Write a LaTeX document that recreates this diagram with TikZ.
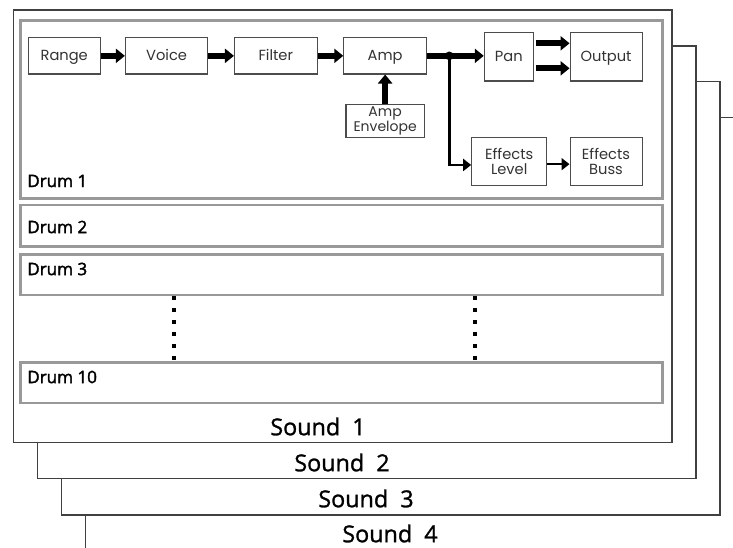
\documentclass[tikz,border=0pt]{standalone}
\usepackage{fontspec}
\usepackage{tikz}
\usetikzlibrary{arrows.meta}
\usetikzlibrary{positioning}
\newfontfamily\blockfont{Poppins}
\newfontfamily\drumfont[FakeBold=2]{Open Sans}
\newfontfamily\soundfont[FakeBold=1.2]{Open Sans}
\tikzset{block/.style = {draw = black!70, line width = 0.8pt, fill = white, inner sep = 0,
                         align = center, minimum height = 27.2pt, text = black!80,
                         font = \blockfont\fontsize{11}{12.5}\selectfont}}
\tikzset{oneline/.style = {text height = 10pt, text depth = 2.3pt}}
\tikzset{drum/.style = {draw = black!40, line width = 1.9pt, inner sep = 0, minimum width = 481.5pt}}
\tikzset{drumlabel/.style = {anchor = west, inner sep = 0, font = \drumfont\fontsize{12.8}{14}\selectfont}}
\tikzset{soundframe/.style = {draw = black!75, line width = 1.1pt, fill = white}}
\tikzset{soundlabel/.style = {inner sep = 0, font = \soundfont\fontsize{17.5}{20}\selectfont}}
\tikzset{fat/.style = {line width = 4.5pt, -{Triangle[length = 6.75pt, width = 10.5pt]}}}
\tikzset{fatline/.style = {line width = 4.5pt}}
\tikzset{slim/.style = {line width = 1.9pt, -{Triangle[length = 6pt, width = 9pt]}}}
\tikzset{circ/.style = {fill, circle, inner sep = 0, minimum size = 6.5pt}}
\tikzset{ellipsisdots/.style = {line width = 3pt, dash pattern = on 3pt off 6pt}}

\begin{document}
\begin{tikzpicture}[x = 0.75pt, y = -0.75pt]
    \useasboundingbox (0, 0) rectangle (733, 548);
    \draw [soundframe] (85.7, 117.7) rectangle (760, 580);
    \draw [soundframe] (61.3, 81.7) rectangle (720, 515);
    \draw [soundframe] (37.3, 46) rectangle (696, 478.7);
    \draw [soundframe] (13.3, 10) rectangle (672, 442.3);
    \node [soundlabel] (sound1) at (318, 426.5) {Sound\ \ 1};
    \node [soundlabel] (sound2) at (342, 462.5) {Sound\ \ 2};
    \node [soundlabel] (sound3) at (366, 498.5) {Sound\ \ 3};
    \node [soundlabel] (sound4) at (390, 533.5) {Sound\ \ 4};

    \node [drum, minimum height = 133.2pt] (drum1) at (341.7, 109.5) {};
    \node [drum, minimum height = 31.3pt] (drum2) at (341.7, 225.85) {};
    \node [drum, minimum height = 30.5pt] (drum3) at (341.7, 274.65) {};
    \node [drum, minimum height = 30.5pt] (drum10) at (341.7, 382.65) {};
    \node [drumlabel] (drum1label) at (27, 181) {Drum 1};
    \node [drumlabel] (drum2label) at (27, 227) {Drum 2};
    \node [drumlabel] (drum3label) at (27, 269) {Drum 3};
    \node [drumlabel] (drum10label) at (27, 377) {Drum 10};
    \draw [ellipsisdots] ([xshift = -125.8pt]drum3.south) -- ([xshift = -125.8pt]drum10.north);
    \draw [ellipsisdots] ([xshift = 100pt]drum3.south) -- ([xshift = 100pt]drum10.north);

    \node [block, oneline, minimum width = 54.2pt] (range) at (64.2, 55.85) {Range};
    \node [block, oneline, minimum width = 61.8pt, right = 18pt of range] (voice) {Voice};
    \node [block, oneline, minimum width = 62pt, right = 19.2pt of voice] (filter) {Filter};
    \node [block, oneline, minimum width = 62pt, right = 19.2pt of filter] (amp) {Amp};
    \node [block, minimum width = 58.7pt, minimum height = 25pt, below = 22pt of amp,
           font = \blockfont\fontsize{10.5}{11.5}\selectfont] (ampenv) {Amp\\Envelope};
    \node [block, oneline, minimum width = 36.75pt, minimum height = 36.5pt] (pan) at (508.8, 56.65) {Pan};
    \node [block, oneline, minimum width = 54pt, minimum height = 36.5pt, right = 26.8pt of pan] (output) {Output};
    \node [block, minimum width = 56.25pt, minimum height = 36.3pt] (efflevel) at (509.2, 161.5) {Effects\\[-1pt]Level};
    \node [block, minimum width = 54pt, minimum height = 36.3pt, right = 16.7pt of efflevel] (effbuss) {Effects\\[-1pt]Buss};
    \coordinate (split) at (449.3, 55.85);

    \draw [fat] (range) -- (voice);
    \draw [fat] (voice) -- (filter);
    \draw [fat] (filter) -- (amp);
    \draw [fat] (ampenv) -- (amp);
    \draw [fatline] (amp) -- (split);
    \draw [fat] (split) -- (split -| pan.west);
    \draw [fat] ([xshift = 1.3pt, yshift = 10pt]pan.east) -- ([yshift = 10pt]output.west);
    \draw [fat] ([xshift = 1.3pt, yshift = -8.75pt]pan.east) -- ([yshift = -8.75pt]output.west);
    \draw [slim] (split) |- ([yshift = -2.6pt]efflevel.west);
    \draw [slim] ([yshift = -2pt]efflevel.east) -- ([yshift = -2pt]effbuss.west);
    \node [circ] (splitdot) at (split) {};
\end{tikzpicture}
\end{document}
